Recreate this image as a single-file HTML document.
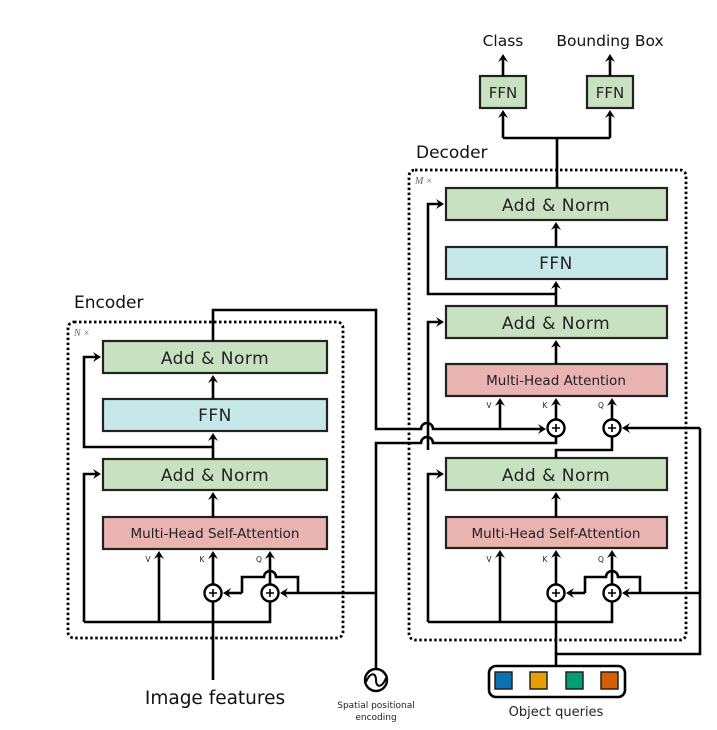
<!DOCTYPE html>
<html><head><meta charset="utf-8"><style>
html,body{margin:0;padding:0;background:#fff;}
svg{display:block;font-family:"DejaVu Sans","Liberation Sans",sans-serif;}
</style></head><body>
<svg width="717" height="730" viewBox="0 0 717 730" xmlns="http://www.w3.org/2000/svg">
<g fill="none" stroke="#000" stroke-width="2.6" stroke-linejoin="miter">
<rect x="68" y="322" width="275" height="316" rx="6" stroke-width="2.8" stroke-dasharray="2.5,2.5"/>
<rect x="409" y="170" width="277" height="470" rx="6" stroke-width="2.8" stroke-dasharray="2.5,2.5"/>
</g>
<g stroke="#222" stroke-width="2.2">
<rect x="103" y="341" width="224" height="32" fill="#c8e2c1"/>
<rect x="103" y="399" width="224" height="32" fill="#c6e8e8"/>
<rect x="103" y="459" width="224" height="31" fill="#c8e2c1"/>
<rect x="103" y="517" width="224" height="32" fill="#e8b3b0"/>
<rect x="446" y="188" width="221" height="32" fill="#c8e2c1"/>
<rect x="446" y="247" width="221" height="32" fill="#c6e8e8"/>
<rect x="446" y="306" width="221" height="32" fill="#c8e2c1"/>
<rect x="446" y="364" width="221" height="32" fill="#e8b3b0"/>
<rect x="446" y="458" width="221" height="32" fill="#c8e2c1"/>
<rect x="446" y="517" width="221" height="31" fill="#e8b3b0"/>
<rect x="480" y="76" width="46" height="32" fill="#c8e2c1"/>
<rect x="587" y="76" width="46" height="32" fill="#c8e2c1"/>
</g>
<g fill="none" stroke="#000" stroke-width="2.6">
<path d="M213 680 V602"/>
<path d="M213 584 V553"/>
<path d="M159 622 V553"/>
<path d="M270 584 V553"/>
<path d="M213 517 V494"/>
<path d="M213 459 V435"/>
<path d="M213 399 V377"/>
<path d="M84 622 H270 V602"/>
<path d="M84 622 V474 H99"/>
<path d="M213 447 H84 V357 H99"/>
<path d="M242 593 H226"/>
<path d="M242 593 V577 H264 A6 6 0 0 1 276 577 H298 V593"/>
<path d="M376 593 H283"/>
<path d="M213 341 V310 H376 V429 H421 A6 6 0 0 1 433 429 H500 M500 429 H543"/>
<path d="M376 669 V443 H421 A6 6 0 0 1 433 443 H556 V437"/>
<path d="M500 429 V400"/>
<path d="M556 419 V400"/>
<path d="M612 419 V400"/>
<path d="M556 364 V342"/>
<path d="M556 306 V283"/>
<path d="M556 247 V224"/>
<path d="M556 294 H428 V204 H442"/>
<path d="M556 458 V450 H612 V437"/>
<path d="M428 450 V322 H442"/>
<path d="M700 428 H625"/>
<path d="M700 428 V654 H556 V666"/>
<path d="M556 654 V602"/>
<path d="M556 584 V552"/>
<path d="M500 622 V552"/>
<path d="M612 584 V552"/>
<path d="M556 517 V494"/>
<path d="M428 622 H612 V602"/>
<path d="M428 622 V474 H442"/>
<path d="M585 593 H569"/>
<path d="M585 593 V577 H606 A6 6 0 0 1 618 577 H640 V593"/>
<path d="M700 593 H625"/>
<path d="M557 188 V138 M503 138 H610 M503 138 V112 M610 138 V112"/>
<path d="M503 76 V58 M610 76 V58"/>
</g>
<g fill="#000">
<path d="M213 551 l-5 8 l5 -3 l5 3z"/><path d="M159 551 l-5 8 l5 -3 l5 3z"/><path d="M270 551 l-5 8 l5 -3 l5 3z"/>
<path d="M213 492 l-5 8 l5 -3 l5 3z"/><path d="M213 433 l-5 8 l5 -3 l5 3z"/><path d="M213 375 l-5 8 l5 -3 l5 3z"/>
<path d="M101 474 l-8 -5 l3 5 l-3 5z"/><path d="M101 357 l-8 -5 l3 5 l-3 5z"/>
<path d="M223 593 l8 -5 l-3 5 l3 5z"/><path d="M280 593 l8 -5 l-3 5 l3 5z"/>
<path d="M500 398 l-5 8 l5 -3 l5 3z"/><path d="M556 398 l-5 8 l5 -3 l5 3z"/><path d="M612 398 l-5 8 l5 -3 l5 3z"/>
<path d="M556 340 l-5 8 l5 -3 l5 3z"/><path d="M556 281 l-5 8 l5 -3 l5 3z"/><path d="M556 222 l-5 8 l5 -3 l5 3z"/>
<path d="M444 204 l-8 -5 l3 5 l-3 5z"/><path d="M444 322 l-8 -5 l3 5 l-3 5z"/><path d="M444 474 l-8 -5 l3 5 l-3 5z"/>
<path d="M546 429 l-8 -5 l3 5 l-3 5z"/><path d="M622 428 l8 -5 l-3 5 l3 5z"/>
<path d="M556 550 l-5 8 l5 -3 l5 3z"/><path d="M500 550 l-5 8 l5 -3 l5 3z"/><path d="M612 550 l-5 8 l5 -3 l5 3z"/>
<path d="M556 492 l-5 8 l5 -3 l5 3z"/>
<path d="M566 593 l8 -5 l-3 5 l3 5z"/><path d="M622 593 l8 -5 l-3 5 l3 5z"/>
<path d="M503 110 l-5 8 l5 -3 l5 3z"/><path d="M610 110 l-5 8 l5 -3 l5 3z"/>
<path d="M503 54 l-5 8 l5 -3 l5 3z"/><path d="M610 54 l-5 8 l5 -3 l5 3z"/>
</g>
<g fill="#fff" stroke="#000" stroke-width="2.4">
<circle cx="213" cy="593" r="8.5"/><circle cx="270" cy="593" r="8.5"/>
<circle cx="556" cy="428" r="8.5"/><circle cx="612" cy="428" r="8.5"/>
<circle cx="556" cy="593" r="8.5"/><circle cx="612" cy="593" r="8.5"/>
<circle cx="376" cy="680" r="11"/>
</g>
<g stroke="#000" stroke-width="1.6">
<path d="M213 589 v8 M209 593 h8 M270 589 v8 M266 593 h8 M556 424 v8 M552 428 h8 M612 424 v8 M608 428 h8 M556 589 v8 M552 593 h8 M612 589 v8 M608 593 h8"/>
<path d="M366 682 C370 672 376 672 376 680 C376 688 382 688 386 678" fill="none" stroke-width="2"/>
</g>
<rect x="489" y="666" width="136" height="31" rx="7" fill="#fff" stroke="#000" stroke-width="2.6"/>
<g stroke="#222" stroke-width="1.5">
<rect x="495" y="672" width="17" height="17" fill="#0a72b2"/>
<rect x="530" y="672" width="17" height="17" fill="#e69f00"/>
<rect x="566" y="672" width="17" height="17" fill="#009e73"/>
<rect x="601" y="672" width="17" height="17" fill="#d55e00"/>
</g>
<g fill="#222" text-anchor="middle">
<g font-size="17" letter-spacing="0.5">
<text x="215" y="364">Add &amp; Norm</text>
<text x="215" y="421">FFN</text>
<text x="215" y="481">Add &amp; Norm</text>
<text x="556" y="211">Add &amp; Norm</text>
<text x="556" y="269">FFN</text>
<text x="556" y="329">Add &amp; Norm</text>
<text x="556" y="481">Add &amp; Norm</text>
</g>
<g font-size="13.5">
<text x="215" y="538">Multi-Head Self-Attention</text>
<text x="556" y="385">Multi-Head Attention</text>
<text x="556" y="538">Multi-Head Self-Attention</text>
</g>
<text x="503" y="98" font-size="15">FFN</text>
<text x="610" y="98" font-size="15">FFN</text>
<text x="503" y="46" font-size="15.5" fill="#111">Class</text>
<text x="610" y="46" font-size="15.5" fill="#111">Bounding Box</text>
<text x="215" y="704" font-size="18.5" fill="#111">Image features</text>
<text x="376" y="708" font-size="9">Spatial  positional</text>
<text x="376" y="720" font-size="9">encoding</text>
<text x="556" y="716" font-size="13">Object  queries</text>
<g font-size="7.5"><text x="148" y="562">V</text><text x="202" y="562">K</text><text x="259" y="562">Q</text>
<text x="489" y="408">V</text><text x="545" y="408">K</text><text x="601" y="408">Q</text>
<text x="489" y="562">V</text><text x="545" y="562">K</text><text x="601" y="562">Q</text></g>
</g>
<g fill="#111" font-size="17">
<text x="74" y="308">Encoder</text>
<text x="416" y="158">Decoder</text>
</g>
<g fill="#666" font-size="10" font-style="italic" font-family="Liberation Serif, serif">
<text x="74" y="336">N ×</text><text x="415" y="184">M ×</text>
</g>
</svg>
</body></html>
